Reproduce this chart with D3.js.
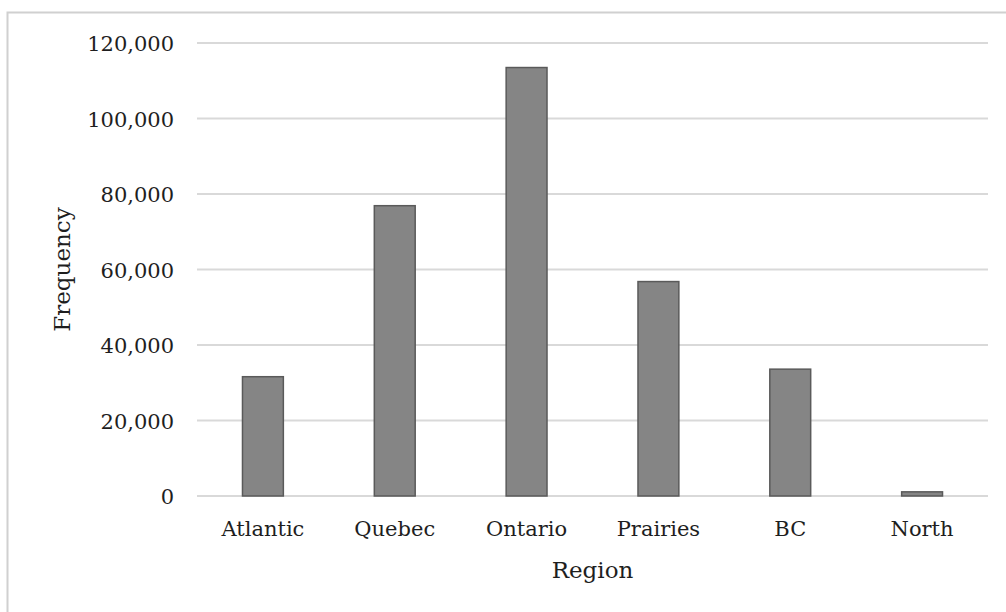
<!DOCTYPE html>
<html>
<head>
<meta charset="utf-8">
<script src="https://cdn.jsdelivr.net/npm/d3@7"></script>
<style>
  html, body { margin: 0; padding: 0; background: #fff; }
  svg { display: block; }
  text { font-family: "DejaVu Serif", "Liberation Serif", serif; fill: #1e1e1e; }
</style>
</head>
<body>
<svg id="chart" width="1006" height="612"></svg>
<script>
// Respondents by region
const regions = ["Atlantic", "Quebec", "Ontario", "Prairies", "BC", "North"];
const frequencies = [31600, 76900, 113500, 56800, 33600, 1100];
const yTicks = [0, 20000, 40000, 60000, 80000, 100000, 120000];

const svg = d3.select("#chart");
const margin = { left: 197, right: 18, top: 43, bottom: 116 };
const width = 1006, height = 612;

// outer frame (open on the right and bottom edges of the canvas)
svg.append("rect")
  .attr("x", 7.5).attr("y", 12.5)
  .attr("width", 1010).attr("height", 620)
  .attr("fill", "none")
  .attr("stroke", "#d0d0d0")
  .attr("stroke-width", 2);

const x = d3.scaleBand()
  .domain(regions)
  .range([margin.left, width - margin.right])
  .padding(0);

const y = d3.scaleLinear()
  .domain([0, 120000])
  .range([height - margin.bottom, margin.top]);

// gridlines
svg.append("g")
  .selectAll("line")
  .data(yTicks)
  .join("line")
  .attr("x1", margin.left)
  .attr("x2", width - margin.right)
  .attr("y1", d => y(d))
  .attr("y2", d => y(d))
  .attr("stroke", "#d9d9d9")
  .attr("stroke-width", 2);

// y axis labels
const yAxis = d3.axisLeft(y)
  .tickValues(yTicks)
  .tickFormat(d3.format(","))
  .tickSize(0)
  .tickPadding(0);

const yg = svg.append("g")
  .attr("transform", `translate(${margin.left - 23},0)`)
  .call(yAxis);
yg.select(".domain").remove();
yg.selectAll("text")
  .attr("font-size", 21)
  .attr("font-family", "\"DejaVu Serif\", serif")
  .attr("fill", "#1e1e1e")
  .attr("dy", "0.36em");

// bars
const barW = x.bandwidth() * 0.31;
svg.append("g")
  .selectAll("rect")
  .data(regions.map((r, i) => ({ region: r, value: frequencies[i] })))
  .join("rect")
  .attr("x", d => x(d.region) + (x.bandwidth() - barW) / 2)
  .attr("y", d => y(d.value))
  .attr("width", barW)
  .attr("height", d => y(0) - y(d.value))
  .attr("fill", "#858585")
  .attr("stroke", "#5a5a5a")
  .attr("stroke-width", 1.5);

// x axis labels
const xAxis = d3.axisBottom(x).tickSize(0).tickPadding(0);
const xg = svg.append("g")
  .attr("transform", `translate(0,${y(0)})`)
  .call(xAxis);
xg.select(".domain").remove();
xg.selectAll("text")
  .attr("font-size", 21)
  .attr("font-family", "\"DejaVu Serif\", serif")
  .attr("fill", "#1e1e1e")
  .attr("dy", "0")
  .attr("y", 40);

// axis titles
svg.append("text")
  .attr("x", (margin.left + width - margin.right) / 2)
  .attr("y", 578)
  .attr("text-anchor", "middle")
  .attr("font-size", 23)
  .text("Region");

svg.append("text")
  .attr("transform", `translate(70,${(y(0) + y(120000)) / 2}) rotate(-90)`)
  .attr("text-anchor", "middle")
  .attr("font-size", 23)
  .text("Frequency");
</script>
</body>
</html>
